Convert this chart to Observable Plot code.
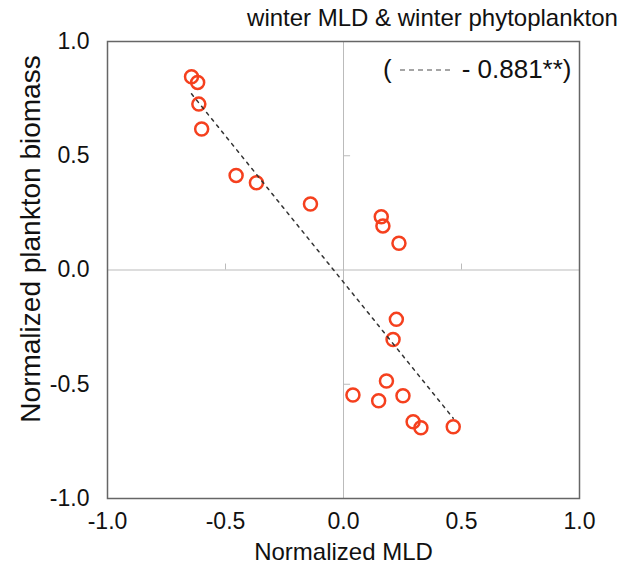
<!DOCTYPE html>
<html>
<head>
<meta charset="utf-8">
<script src="https://cdn.jsdelivr.net/npm/d3@7"></script>
<script src="https://cdn.jsdelivr.net/npm/@observablehq/plot@0.6"></script>
<style>
  html, body { margin: 0; padding: 0; background: #fff; }
  #wrap { position: relative; width: 624px; height: 569px; font-family: "Liberation Sans", Arial, sans-serif; }
  #legend { position: absolute; left: 383px; top: 54px; font-size: 26px; color: #111; white-space: nowrap; display: flex; align-items: center; }
</style>
</head>
<body>
<div id="wrap"></div>
<script>
const title = "winter MLD & winter phytoplankton";
const xLabel = "Normalized MLD";
const yLabel = "Normalized plankton biomass";
const legendText = "- 0.881**)";
const tickValues = [-1, -0.5, 0, 0.5, 1];
const minorTicks = [-0.5, 0.5];

const mld = [-0.644, -0.618, -0.613, -0.601, -0.455, -0.369, -0.140, 0.160, 0.167, 0.235,
             0.224, 0.210, 0.182, 0.040, 0.149, 0.252, 0.295, 0.328, 0.465];
const biomass = [0.846, 0.821, 0.726, 0.617, 0.414, 0.382, 0.289, 0.233, 0.193, 0.117,
                 -0.216, -0.304, -0.486, -0.547, -0.572, -0.550, -0.664, -0.690, -0.686];

const data = mld.map((x, i) => ({x, y: biomass[i]}));
const fmt = d => d.toFixed(1);
const font = "Liberation Sans, Arial, sans-serif";

const chart = Plot.plot({
  width: 624,
  height: 569,
  marginLeft: 107,
  marginRight: 45,
  marginTop: 41,
  marginBottom: 71,
  style: {fontFamily: font, color: "#111", background: "white"},
  x: {domain: [-1, 1]},
  y: {domain: [-1, 1]},
  marks: [
    Plot.ruleX([0], {stroke: "#bbb", strokeWidth: 1}),
    Plot.ruleY([0], {stroke: "#bbb", strokeWidth: 1}),
    Plot.ruleX(minorTicks, {y1: 0, y2: 0.026, stroke: "#bbb", strokeWidth: 1}),
    Plot.ruleY(minorTicks, {x1: 0, x2: 0.03, stroke: "#bbb", strokeWidth: 1}),
    Plot.frame({stroke: "#666", strokeWidth: 1.5}),
    Plot.axisX({ticks: tickValues, tickFormat: fmt, tickSize: 0, tickPadding: 14, fontSize: 23, label: null}),
    Plot.axisY({ticks: tickValues, tickFormat: fmt, tickSize: 0, tickPadding: 18, fontSize: 23, label: null}),
    Plot.dot(data, {x: "x", y: "y", r: 6.5, stroke: "#f5401e", strokeWidth: 2.5, fill: "none"}),
    Plot.linearRegressionY(data, {x: "x", y: "y", ci: 0, stroke: "#333", strokeWidth: 1.5, strokeDasharray: "3,5"}),
    Plot.text([xLabel], {frameAnchor: "bottom", dy: 54, fontSize: 24, lineAnchor: "middle", fill: "#111"}),
    Plot.text([yLabel], {frameAnchor: "left", textAnchor: "middle", dx: -76, dy: -31, rotate: -90, fontSize: 28, lineAnchor: "middle", fill: "#111"}),
    Plot.text([title], {frameAnchor: "top", dx: 89, dy: -23, fontSize: 24, lineAnchor: "middle", fill: "#111"})
  ]
});

const wrap = document.getElementById("wrap");
wrap.appendChild(chart);

const legend = document.createElement("div");
legend.id = "legend";
legend.innerHTML = '<span>(</span>' +
  '<svg width="60" height="10" style="margin:0 5px 0 5px"><line x1="3" y1="5" x2="56" y2="5" stroke="#888" stroke-width="1.5" stroke-dasharray="5,4"/></svg>' +
  '<span></span>';
legend.lastChild.textContent = legendText;
wrap.appendChild(legend);
</script>
</body>
</html>
